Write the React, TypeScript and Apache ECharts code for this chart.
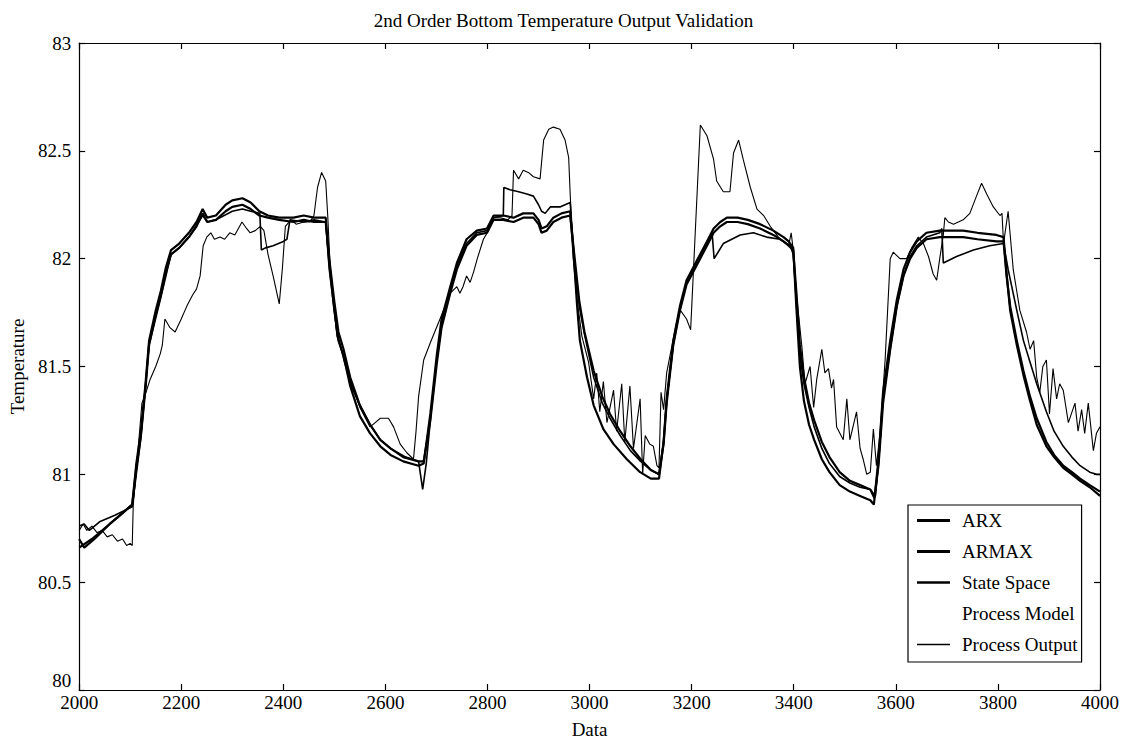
import React, { useEffect, useRef } from "react";
import * as echarts from "echarts";

const titleText = "2nd Order Bottom Temperature Output Validation";
const xTicks = [2000, 2200, 2400, 2600, 2800, 3000, 3200, 3400, 3600, 3800, 4000];
const yTicks = [80, 80.5, 81, 81.5, 82, 82.5, 83];

const arxX = [2000, 2025, 2050, 2075, 2104, 2112, 2121, 2130, 2137, 2150, 2160, 2170, 2180, 2196, 2215, 2230, 2242, 2251, 2268, 2287, 2300, 2320, 2336, 2353, 2370, 2392, 2420, 2440, 2460, 2483, 2490, 2500, 2508, 2518, 2531, 2550, 2570, 2590, 2610, 2635, 2665, 2675, 2688, 2701, 2710, 2727, 2740, 2759, 2779, 2799, 2812, 2831, 2851, 2870, 2890, 2900, 2906, 2916, 2929, 2945, 2962, 2970, 2975, 2981, 2995, 3008, 3027, 3047, 3073, 3099, 3120, 3136, 3145, 3151, 3164, 3177, 3190, 3210, 3230, 3243, 3256, 3269, 3290, 3310, 3334, 3360, 3380, 3390, 3399, 3405, 3412, 3420, 3430, 3440, 3455, 3470, 3490, 3510, 3530, 3550, 3557, 3566, 3575, 3589, 3602, 3615, 3628, 3641, 3660, 3686, 3710, 3732, 3760, 3797, 3811, 3817, 3824, 3837, 3850, 3863, 3876, 3895, 3910, 3928, 3945, 3961, 3980, 4000];
const arxY = [80.66, 80.7, 80.75, 80.8, 80.86, 81.05, 81.2, 81.42, 81.62, 81.76, 81.85, 81.96, 82.04, 82.07, 82.12, 82.17, 82.23, 82.19, 82.2, 82.25, 82.27, 82.28, 82.26, 82.22, 82.2, 82.19, 82.19, 82.2, 82.19, 82.19, 81.98, 81.76, 81.62, 81.55, 81.41, 81.27, 81.19, 81.13, 81.09, 81.06, 81.04, 81.05, 81.28, 81.56, 81.72, 81.87, 81.98, 82.09, 82.13, 82.14, 82.2, 82.2, 82.19, 82.21, 82.21, 82.18, 82.14, 82.15, 82.19, 82.21, 82.22, 81.98, 81.8, 81.62, 81.45, 81.32, 81.21, 81.14, 81.07, 81.01, 80.98, 80.98, 81.15, 81.35, 81.62, 81.78, 81.9, 81.99, 82.08, 82.14, 82.17, 82.19, 82.19, 82.18, 82.16, 82.13, 82.1, 82.08, 82.05, 81.78, 81.5, 81.34, 81.23, 81.16, 81.07, 81.01, 80.95, 80.92, 80.9, 80.88, 80.86, 81.07, 81.38, 81.62, 81.81, 81.95, 82.03, 82.08, 82.12, 82.13, 82.13, 82.13, 82.12, 82.11, 82.1, 81.93, 81.76, 81.6, 81.46, 81.34, 81.23, 81.13, 81.08, 81.03, 81.0, 80.97, 80.94, 80.9];

const armaxX = [2000, 2010, 2030, 2060, 2085, 2104, 2112, 2121, 2130, 2137, 2150, 2160, 2170, 2180, 2196, 2215, 2230, 2242, 2251, 2268, 2287, 2300, 2320, 2336, 2353, 2370, 2392, 2420, 2440, 2460, 2483, 2490, 2500, 2508, 2518, 2531, 2550, 2570, 2590, 2610, 2635, 2665, 2675, 2688, 2701, 2710, 2727, 2740, 2759, 2779, 2799, 2812, 2831, 2851, 2870, 2890, 2900, 2906, 2916, 2929, 2945, 2962, 2970, 2980, 2990, 3008, 3025, 3040, 3060, 3080, 3100, 3120, 3136, 3145, 3151, 3164, 3177, 3190, 3210, 3230, 3243, 3256, 3269, 3290, 3310, 3334, 3360, 3380, 3390, 3399, 3405, 3412, 3420, 3430, 3440, 3455, 3470, 3490, 3510, 3530, 3550, 3558, 3566, 3575, 3589, 3602, 3615, 3628, 3641, 3660, 3686, 3710, 3732, 3760, 3797, 3811, 3817, 3824, 3837, 3850, 3863, 3876, 3895, 3910, 3928, 3945, 3961, 3980, 4000];
const armaxY = [80.7, 80.66, 80.7, 80.77, 80.82, 80.86, 81.03, 81.18, 81.4, 81.6, 81.74, 81.83, 81.94, 82.02, 82.05, 82.1, 82.15, 82.21, 82.17, 82.18, 82.22, 82.24, 82.25, 82.23, 82.2, 82.19, 82.18, 82.17, 82.18, 82.17, 82.17, 82.0, 81.8, 81.66, 81.58, 81.45, 81.32, 81.23, 81.16, 81.12, 81.08, 81.06, 81.06, 81.25, 81.52, 81.68, 81.84, 81.95, 82.06, 82.11, 82.12, 82.18, 82.18, 82.17, 82.19, 82.19, 82.16, 82.12, 82.13, 82.17, 82.19, 82.2, 82.02, 81.8, 81.66, 81.48, 81.36, 81.28, 81.2, 81.13, 81.07, 81.02, 81.0, 81.14, 81.33, 81.6, 81.76, 81.88, 81.97, 82.06, 82.12, 82.15, 82.17, 82.17, 82.16, 82.14, 82.11, 82.08, 82.06, 82.04, 81.85, 81.6, 81.45, 81.33, 81.25, 81.15, 81.08, 81.01, 80.97, 80.95, 80.93, 80.89, 81.04, 81.33, 81.58, 81.78, 81.92, 82.0, 82.05, 82.09, 82.1, 82.1, 82.1, 82.09, 82.08, 82.08, 81.92, 81.78, 81.62, 81.48, 81.36, 81.26, 81.15, 81.09, 81.04, 81.01, 80.98, 80.95, 80.92];

const ssX = [2000, 2010, 2020, 2040, 2070, 2104, 2121, 2137, 2160, 2180, 2196, 2215, 2242, 2251, 2268, 2300, 2320, 2336, 2354, 2357, 2365, 2380, 2400, 2407, 2413, 2440, 2460, 2483, 2490, 2505, 2520, 2535, 2550, 2570, 2590, 2610, 2640, 2665, 2673, 2680, 2690, 2700, 2712, 2727, 2740, 2759, 2779, 2799, 2812, 2831, 2832, 2844, 2861, 2877, 2890, 2900, 2906, 2913, 2923, 2942, 2962, 2970, 2980, 2990, 3008, 3025, 3040, 3060, 3080, 3100, 3120, 3136, 3145, 3151, 3164, 3177, 3190, 3210, 3230, 3240, 3244, 3262, 3295, 3321, 3347, 3373, 3393, 3399, 3405, 3412, 3420, 3430, 3440, 3455, 3470, 3490, 3510, 3530, 3550, 3560, 3566, 3575, 3589, 3602, 3615, 3628, 3641, 3660, 3686, 3690, 3693, 3719, 3752, 3784, 3811, 3820, 3837, 3850, 3863, 3876, 3895, 3910, 3928, 3945, 3961, 3980, 3993, 4000];
const ssY = [80.76, 80.77, 80.74, 80.78, 80.81, 80.85, 81.17, 81.6, 81.82, 82.02, 82.05, 82.1, 82.2, 82.17, 82.18, 82.22, 82.23, 82.22, 82.21, 82.04, 82.05, 82.06, 82.08, 82.09, 82.18, 82.17, 82.18, 82.17, 81.95, 81.66, 81.52, 81.4, 81.32, 81.23, 81.16, 81.12, 81.08, 81.06, 80.93, 81.05, 81.3, 81.52, 81.72, 81.86, 81.97, 82.07, 82.12, 82.13, 82.19, 82.2, 82.33, 82.32, 82.31, 82.3, 82.29, 82.25, 82.22, 82.21, 82.24, 82.24, 82.26, 82.0, 81.78, 81.65, 81.45, 81.33, 81.26, 81.18, 81.11, 81.06, 81.02, 81.0, 81.15, 81.34, 81.6, 81.77, 81.89, 81.99, 82.07, 82.12, 82.0, 82.07, 82.11, 82.12, 82.1, 82.09, 82.06, 82.02, 81.8, 81.55, 81.42, 81.31, 81.22, 81.12, 81.05, 80.99, 80.96, 80.94, 80.93, 80.9, 81.05, 81.35, 81.58, 81.78, 81.92, 82.01, 82.06, 82.1, 82.12, 82.14, 81.98, 82.01, 82.04, 82.06, 82.07, 81.95, 81.76, 81.62, 81.52, 81.42, 81.29, 81.2, 81.13, 81.08, 81.04, 81.01, 81.0, 81.0];

const outX = [2000, 2008, 2015, 2025, 2035, 2045, 2055, 2065, 2075, 2085, 2093, 2100, 2104, 2106, 2115, 2123, 2131, 2139, 2150, 2159, 2163, 2168, 2178, 2188, 2200, 2211, 2222, 2230, 2237, 2243, 2250, 2258, 2265, 2276, 2285, 2295, 2305, 2319, 2328, 2335, 2345, 2355, 2362, 2370, 2380, 2392, 2398, 2404, 2415, 2425, 2440, 2452, 2460, 2467, 2475, 2483, 2487, 2492, 2505, 2518, 2531, 2550, 2570, 2580, 2590, 2606, 2616, 2629, 2642, 2655, 2660, 2665, 2675, 2688, 2707, 2727, 2740, 2746, 2752, 2759, 2766, 2773, 2780, 2792, 2802, 2812, 2825, 2840, 2848, 2851, 2861, 2870, 2880, 2890, 2903, 2910, 2920, 2929, 2942, 2952, 2959, 2962, 2968, 2975, 2985, 2998, 3008, 3014, 3020, 3027, 3034, 3047, 3053, 3063, 3069, 3079, 3086, 3099, 3104, 3109, 3118, 3125, 3132, 3136, 3140, 3145, 3151, 3160, 3170, 3178, 3190, 3198, 3217, 3230, 3243, 3249, 3262, 3275, 3282, 3292, 3301, 3315, 3328, 3341, 3354, 3370, 3380, 3390, 3395, 3399, 3406, 3416, 3422, 3432, 3439, 3445, 3455, 3461, 3468, 3474, 3478, 3484, 3497, 3504, 3510, 3523, 3530, 3536, 3543, 3550, 3556, 3562, 3569, 3579, 3589, 3595, 3608, 3621, 3631, 3644, 3654, 3664, 3673, 3680, 3686, 3693, 3696, 3703, 3713, 3732, 3745, 3758, 3768, 3778, 3791, 3804, 3808, 3811, 3820, 3830, 3843, 3856, 3863, 3870, 3876, 3882, 3888, 3895, 3901, 3908, 3915, 3921, 3928, 3938, 3951, 3957, 3964, 3970, 3977, 3987, 3993, 4000];
const outY = [80.74, 80.77, 80.74, 80.76, 80.73, 80.74, 80.71, 80.72, 80.69, 80.7, 80.67, 80.68, 80.67, 80.86, 81.1, 81.33, 81.38, 81.44, 81.5, 81.56, 81.6, 81.72, 81.68, 81.66, 81.72, 81.78, 81.83, 81.86, 81.92, 82.06, 82.1, 82.12, 82.09, 82.1, 82.09, 82.12, 82.11, 82.17, 82.14, 82.12, 82.13, 82.15, 82.13, 82.02, 81.92, 81.79, 81.95, 82.15, 82.18, 82.16, 82.17, 82.17, 82.2, 82.33, 82.4, 82.36, 82.2, 81.95, 81.64, 81.55, 81.44, 81.31, 81.22, 81.24, 81.26, 81.26, 81.22, 81.14, 81.1, 81.07, 81.2, 81.36, 81.53, 81.61, 81.72, 81.84, 81.87, 81.84, 81.87, 81.92, 81.89, 81.94, 82.0, 82.09, 82.13, 82.19, 82.19, 82.18, 82.2, 82.41, 82.37, 82.41, 82.4, 82.38, 82.37, 82.55, 82.6, 82.61, 82.6, 82.55, 82.47, 82.3, 82.0, 81.82, 81.64, 81.52, 81.35, 81.47, 81.29, 81.43, 81.24, 81.39, 81.2, 81.42, 81.15, 81.41, 81.12, 81.35, 81.0, 81.18, 81.14, 81.13, 81.04, 81.03, 81.38, 81.3, 81.47, 81.58, 81.7, 81.76, 81.72, 81.67, 82.62, 82.57, 82.46, 82.36, 82.31, 82.31, 82.49, 82.55, 82.46, 82.33, 82.23, 82.2, 82.15, 82.1, 82.08, 82.06, 82.12, 82.04, 81.82, 81.59, 81.42, 81.5, 81.31, 81.44, 81.58, 81.47, 81.49, 81.4, 81.44, 81.22, 81.16, 81.35, 81.16, 81.29, 81.12, 81.07, 81.0, 81.01, 81.21, 81.04, 81.19, 81.53, 82.0, 82.03, 82.0, 82.0, 82.05, 82.1, 82.07, 82.01, 81.93, 81.9, 82.0, 82.11, 82.19, 82.17, 82.16, 82.18, 82.21, 82.29, 82.35, 82.3, 82.24, 82.2, 82.21, 82.07, 82.22, 81.95, 81.76, 81.66, 81.58, 81.62, 81.45, 81.38, 81.5, 81.53, 81.28, 81.49, 81.35, 81.42, 81.39, 81.24, 81.33, 81.2, 81.3, 81.19, 81.33, 81.11, 81.19, 81.22];

const processModelX: number[] = [];
const processModelY: number[] = [];

const pairs = (xs: number[], ys: number[]) => xs.map((x, i) => [x, ys[i]]);

const SERIF = "'Liberation Serif', 'DejaVu Serif', serif";
const THICK_ICON = "path://M0 0H33V3H0Z";
const MID_ICON = "path://M0 0H33V2.4H0Z";
const THIN_ICON = "path://M0 0H33V1.6H0Z";

export default function App() {
  const ref = useRef<HTMLDivElement>(null);
  useEffect(() => {
    if (!ref.current) return;
    const chart = echarts.init(ref.current, undefined, { renderer: "svg" });
    const axisCommon = {
      type: "value" as const,
      axisLine: { show: true, onZero: false, lineStyle: { color: "#000", width: 1.2 } },
      axisTick: { show: true, inside: true, length: 6, lineStyle: { color: "#000", width: 1.2 } },
      splitLine: { show: false },
    };
    const labelStyle = { color: "#000", fontFamily: SERIF, fontSize: 19 };
    chart.setOption({
      animation: false,
      backgroundColor: "#fff",
      title: {
        text: titleText,
        left: "center",
        top: 6,
        textStyle: { fontFamily: SERIF, fontSize: 19, fontWeight: "normal", color: "#000" },
      },
      grid: { left: 79, right: 27, top: 43, bottom: 56, containLabel: false },
      xAxis: [
        {
          ...axisCommon,
          min: xTicks[0],
          max: xTicks[xTicks.length - 1],
          interval: 200,
          name: "Data",
          nameLocation: "middle",
          nameGap: 30,
          nameTextStyle: { ...labelStyle },
          axisLabel: { ...labelStyle, margin: 3, formatter: (v: number) => String(v) },
        },
        {
          ...axisCommon,
          position: "top",
          min: xTicks[0],
          max: xTicks[xTicks.length - 1],
          interval: 200,
          axisLabel: { show: false },
        },
      ],
      yAxis: [
        {
          ...axisCommon,
          min: yTicks[0],
          max: yTicks[yTicks.length - 1],
          interval: 0.5,
          name: "Temperature",
          nameLocation: "middle",
          nameGap: 52,
          nameTextStyle: { ...labelStyle },
          axisLabel: {
            ...labelStyle,
            margin: 8,
            verticalAlignMinLabel: "bottom",
            formatter: (v: number) => String(v),
          },
        },
        {
          ...axisCommon,
          position: "right",
          min: yTicks[0],
          max: yTicks[yTicks.length - 1],
          interval: 0.5,
          axisLabel: { show: false },
        },
      ],
      legend: {
        orient: "vertical",
        left: 908,
        top: 505,
        backgroundColor: "#fff",
        borderColor: "#000",
        borderWidth: 1.2,
        padding: [6, 4, 8, 9],
        itemWidth: 33,
        itemHeight: 14,
        itemGap: 12,
        textStyle: { fontFamily: SERIF, fontSize: 19, lineHeight: 19, color: "#000", padding: [0, 0, 0, 7] },
        data: [
          { name: "ARX", icon: THICK_ICON },
          { name: "ARMAX", icon: THICK_ICON },
          { name: "State Space", icon: MID_ICON },
          { name: "Process Model", icon: THIN_ICON },
          { name: "Process Output", icon: THIN_ICON },
        ],
      },
      series: [
        {
          name: "ARX",
          type: "line",
          symbol: "none",
          data: pairs(arxX, arxY),
          lineStyle: { color: "#000", width: 2.2 },
          itemStyle: { color: "#000" },
          z: 3,
        },
        {
          name: "ARMAX",
          type: "line",
          symbol: "none",
          data: pairs(armaxX, armaxY),
          lineStyle: { color: "#000", width: 2.2 },
          itemStyle: { color: "#000" },
          z: 3,
        },
        {
          name: "State Space",
          type: "line",
          symbol: "none",
          data: pairs(ssX, ssY),
          lineStyle: { color: "#000", width: 1.6 },
          itemStyle: { color: "#000" },
          z: 3,
        },
        {
          name: "Process Model",
          type: "line",
          symbol: "none",
          data: pairs(processModelX, processModelY),
          lineStyle: { color: "rgba(255,255,255,0)", width: 1 },
          itemStyle: { color: "rgba(255,255,255,0)" },
        },
        {
          name: "Process Output",
          type: "line",
          symbol: "none",
          data: pairs(outX, outY),
          lineStyle: { color: "#000", width: 1.1 },
          itemStyle: { color: "#000" },
          z: 2,
        },
      ],
    });
    return () => chart.dispose();
  }, []);
  return (
    <div
      ref={ref}
      style={{ position: "fixed", left: 0, top: 0, width: 1127, height: 746, background: "#fff" }}
    />
  );
}
